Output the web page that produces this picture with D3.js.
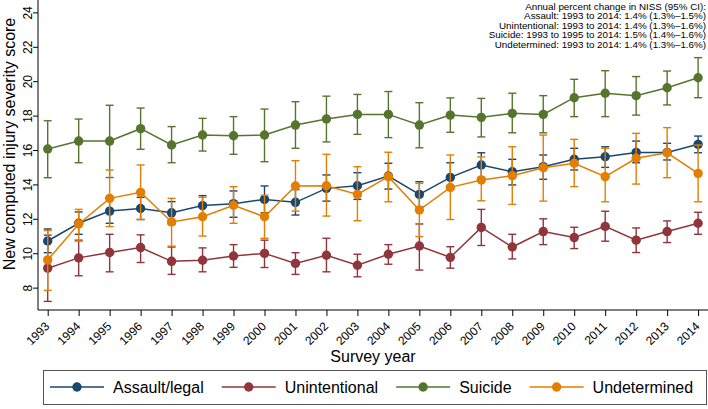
<!DOCTYPE html>
<html>
<head>
<meta charset="utf-8">
<script src="https://cdnjs.cloudflare.com/ajax/libs/d3/7.8.5/d3.min.js"></script>
<style>
  html, body { margin: 0; padding: 0; background: #fff; }
  svg { display: block; font-family: "Liberation Sans", Arial, Helvetica, sans-serif; }
</style>
</head>
<body>
<svg id="chart" width="708" height="409"></svg>
<script>
const years = [1993,1994,1995,1996,1997,1998,1999,2000,2001,2002,2003,2004,2005,2006,2007,2008,2009,2010,2011,2012,2013,2014];
const yTicks = [8,10,12,14,16,18,20,22,24];

const seriesNames = ["Assault/legal", "Unintentional", "Suicide", "Undetermined"];
const seriesColors = ["#1a476f", "#90353b", "#55752f", "#e37e00"];

const assaultMean = [10.71,11.74,12.45,12.60,12.35,12.77,12.88,13.13,12.96,13.77,13.92,14.49,13.42,14.41,15.13,14.74,15.03,15.46,15.61,15.86,15.86,16.33];
const assaultLo   = [10.03,11.10,11.74,11.96,11.70,12.10,12.09,12.35,12.22,13.03,13.13,13.73,12.70,13.72,14.40,13.97,14.30,14.84,14.99,15.26,15.42,15.84];
const assaultHi   = [11.41,12.40,13.20,13.25,13.00,13.35,13.62,13.91,13.70,14.55,14.68,15.23,14.16,15.26,15.84,15.46,15.71,16.10,16.19,16.52,16.39,16.81];

const unintMean = [9.13,9.73,10.04,10.33,9.53,9.59,9.84,9.99,9.41,9.88,9.30,9.94,10.42,9.76,11.50,10.36,11.26,10.91,11.56,10.76,11.26,11.74];
const unintLo   = [7.20,8.69,8.92,9.46,8.77,8.92,9.18,9.17,8.77,8.92,8.63,9.36,9.02,9.13,10.45,9.67,10.50,10.27,10.70,10.04,10.62,11.10];
const unintHi   = [11.05,10.76,11.10,11.07,10.36,10.31,10.50,10.76,10.03,10.87,9.94,10.50,11.70,10.38,12.55,11.10,12.00,11.51,12.44,11.47,11.88,12.38];

const suicideMean = [16.06,16.52,16.52,17.24,16.29,16.87,16.83,16.87,17.45,17.80,18.07,18.07,17.45,18.03,17.90,18.13,18.07,19.04,19.30,19.16,19.62,20.20];
const suicideLo   = [14.39,15.26,14.40,16.04,15.26,15.94,15.75,15.32,16.10,16.47,16.91,16.72,16.13,17.03,16.76,17.00,17.00,17.94,17.94,18.03,18.62,19.04];
const suicideHi   = [17.70,17.80,18.60,18.44,17.36,17.84,17.94,18.38,18.81,19.13,19.23,19.40,18.75,19.03,19.00,19.30,19.16,20.11,20.61,20.27,20.59,21.37];

const undetMean = [9.61,11.70,13.19,13.54,11.82,12.12,12.79,12.12,13.91,13.92,13.42,14.45,12.51,13.83,14.26,14.51,14.97,15.23,14.45,15.52,15.84,14.64];
const undetLo   = [7.84,10.70,11.55,11.96,10.41,11.00,11.74,10.87,12.45,12.16,11.89,12.99,10.97,11.96,13.05,12.84,13.03,13.87,12.99,14.02,14.39,12.99];
const undetHi   = [11.32,12.55,14.84,15.13,13.19,13.25,13.87,13.37,15.38,15.75,15.03,15.87,14.06,15.71,15.60,16.19,16.87,16.62,16.10,16.97,17.30,16.29];

const annotationLines = [
  "Annual percent change in NISS (95% CI):",
  "Assault: 1993 to 2014: 1.4% (1.3%\u20131.5%)",
  "Unintentional: 1993 to 2014: 1.4% (1.3%\u20131.6%)",
  "Suicide: 1993 to 1995 to 2014: 1.5% (1.4%\u20131.6%)",
  "Undetermined: 1993 to 2014: 1.4% (1.3%\u20131.6%)"
];

const means = [assaultMean, unintMean, suicideMean, undetMean];
const los = [assaultLo, unintLo, suicideLo, undetLo];
const his = [assaultHi, unintHi, suicideHi, undetHi];

const svg = d3.select("#chart");
const plotLeft = 38, plotRight = 708, plotTop = 0, plotBottom = 310;

const x = d3.scaleLinear().domain([1993, 2014]).range([47.7, 698.1]);
const y = d3.scaleLinear().domain([6.70, 24.72]).range([plotBottom, plotTop]);

// axes
const yAxis = d3.axisLeft(y).tickValues(yTicks).tickSize(5).tickFormat(d3.format("d"));
const gy = svg.append("g").attr("transform", `translate(${plotLeft},0)`).call(yAxis);
gy.select(".domain").attr("stroke", "#000").attr("d", `M0,${plotTop}V${plotBottom}`);
gy.selectAll(".tick line").attr("stroke", "#000");
gy.selectAll(".tick text")
  .attr("x", null).attr("dy", null)
  .attr("transform", "translate(-6,0) rotate(-90)")
  .attr("text-anchor", "middle")
  .attr("font-size", 12)
  .attr("fill", "#000");

const xAxis = d3.axisBottom(x).tickValues(years).tickSize(6).tickFormat(d3.format("d"));
const gx = svg.append("g").attr("transform", `translate(0,${plotBottom})`).call(xAxis);
gx.select(".domain").attr("stroke", "#000").attr("d", `M${plotLeft},0H${plotRight}`);
gx.selectAll(".tick line").attr("stroke", "#000");
gx.selectAll(".tick text")
  .attr("y", null).attr("dy", "0.35em")
  .attr("transform", "translate(-1,14) rotate(-45)")
  .attr("text-anchor", "end")
  .attr("font-size", 12)
  .attr("fill", "#000");

// axis titles
svg.append("text")
  .attr("transform", `translate(15,144) rotate(-90)`)
  .attr("text-anchor", "middle")
  .attr("font-size", 16)
  .attr("fill", "#000")
  .text("New computed injury severity score");

svg.append("text")
  .attr("x", (plotLeft + plotRight) / 2)
  .attr("y", 362)
  .attr("text-anchor", "middle")
  .attr("font-size", 16)
  .attr("fill", "#000")
  .text("Survey year");

// series
const capW = 4;
const line = d3.line().x((d, i) => x(years[i])).y(d => y(d));
seriesNames.forEach((name, s) => {
  const g = svg.append("g");
  const col = seriesColors[s];
  const bars = g.selectAll("g.bar").data(years).enter().append("g");
  bars.append("line")
    .attr("x1", (d) => x(d)).attr("x2", (d) => x(d))
    .attr("y1", (d, i) => y(los[s][i])).attr("y2", (d, i) => y(his[s][i]))
    .attr("stroke", col).attr("stroke-width", 1.4);
  bars.append("line")
    .attr("x1", (d) => x(d) - capW).attr("x2", (d) => x(d) + capW)
    .attr("y1", (d, i) => y(los[s][i])).attr("y2", (d, i) => y(los[s][i]))
    .attr("stroke", col).attr("stroke-width", 1.4);
  bars.append("line")
    .attr("x1", (d) => x(d) - capW).attr("x2", (d) => x(d) + capW)
    .attr("y1", (d, i) => y(his[s][i])).attr("y2", (d, i) => y(his[s][i]))
    .attr("stroke", col).attr("stroke-width", 1.4);
  g.append("path")
    .attr("d", line(means[s]))
    .attr("fill", "none").attr("stroke", col).attr("stroke-width", 1.5);
  g.selectAll("circle").data(means[s]).enter().append("circle")
    .attr("cx", (d, i) => x(years[i])).attr("cy", d => y(d))
    .attr("r", 4.7).attr("fill", col);
});

// annotation
const ann = svg.append("text")
  .attr("text-anchor", "end")
  .attr("font-size", 9.8)
  .attr("fill", "#000");
annotationLines.forEach((t, i) => {
  ann.append("tspan").attr("x", 706).attr("y", 10 + i * 9.4).text(t);
});

// legend
const legY = 387;
svg.append("rect")
  .attr("x", 43.5).attr("y", 370.5).attr("width", 663).attr("height", 34)
  .attr("fill", "#fff").attr("stroke", "#555").attr("stroke-width", 1);
let lx = 50;
seriesNames.forEach((name, s) => {
  const col = seriesColors[s];
  svg.append("line").attr("x1", lx).attr("x2", lx + 54).attr("y1", legY).attr("y2", legY)
    .attr("stroke", col).attr("stroke-width", 1.5);
  svg.append("circle").attr("cx", lx + 27).attr("cy", legY).attr("r", 4.7).attr("fill", col);
  const t = svg.append("text").attr("x", lx + 63).attr("y", legY + 5.5)
    .attr("font-size", 16).attr("fill", "#000").text(name);
  lx = lx + 63 + t.node().getComputedTextLength() + 18;
});
</script>
</body>
</html>
